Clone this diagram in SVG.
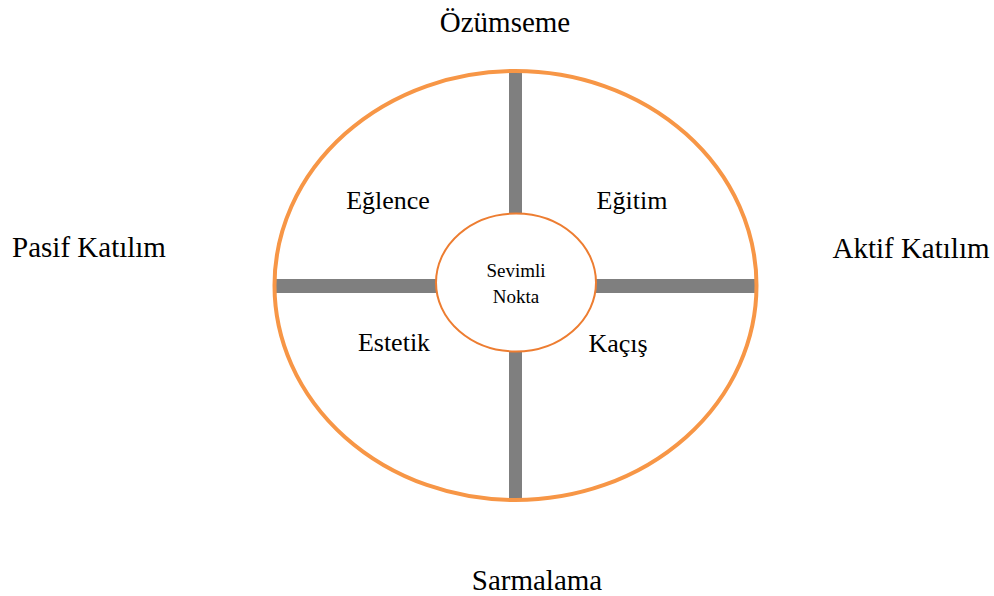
<svg xmlns="http://www.w3.org/2000/svg" width="994" height="596" viewBox="0 0 994 596">
<style>
text{font-family:"Liberation Serif","Times New Roman",serif;fill:#000;text-anchor:middle}
.big{font-size:29px}
.mid{font-size:26px}
.sm{font-size:19px}
.bar{fill:#7f7f7f}
</style>
<rect width="994" height="596" fill="#fff"/>
<g id="connectors">
<rect class="bar" x="509" y="71" width="13" height="143"/>
<rect class="bar" x="509" y="351" width="13" height="150"/>
<rect class="bar" x="275" y="279" width="162" height="14"/>
<rect class="bar" x="595" y="279" width="161" height="14"/>
</g>
<g id="outer">
<ellipse cx="515.5" cy="285.5" rx="241" ry="214.5" fill="none" stroke="#f79646" stroke-width="4"/>
</g>
<g id="center">
<ellipse cx="516" cy="282.5" rx="80" ry="69" fill="#fff" stroke="#ed7d31" stroke-width="2"/>
<text class="sm" x="516" y="277">Sevimli</text>
<text class="sm" x="516" y="303">Nokta</text>
</g>
<g id="ozumseme"><text class="big" x="505" y="32">Özümseme</text></g>
<g id="sarmalama"><text class="big" x="537" y="590">Sarmalama</text></g>
<g id="pasif"><text class="big" x="89" y="257">Pasif Katılım</text></g>
<g id="aktif"><text class="big" x="911" y="258">Aktif Katılım</text></g>
<g id="eglence"><text class="mid" x="388" y="209">Eğlence</text></g>
<g id="egitim"><text class="mid" x="632" y="209">Eğitim</text></g>
<g id="estetik"><text class="mid" x="394" y="351">Estetik</text></g>
<g id="kacis"><text class="mid" x="618" y="352">Kaçış</text></g>
</svg>
